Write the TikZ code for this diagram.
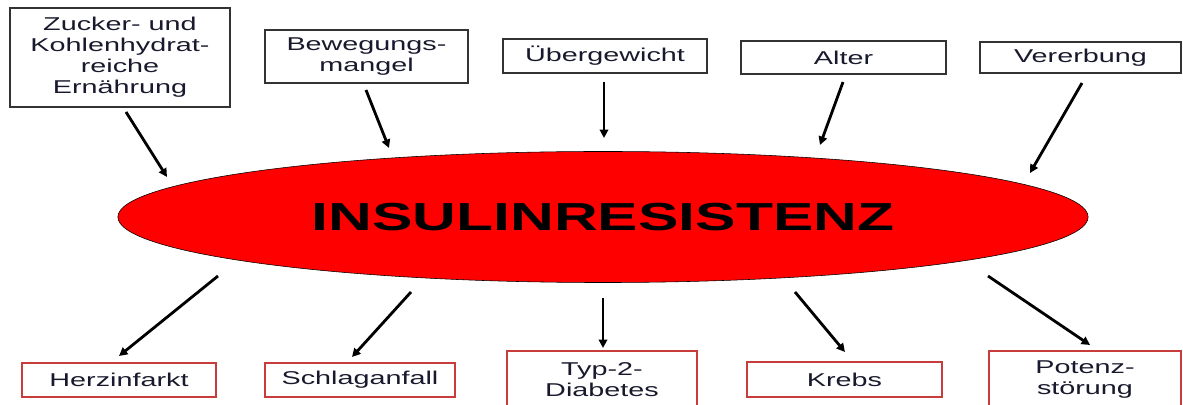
\documentclass[tikz,border=0pt]{standalone}
\usepackage{fontspec}
\usepackage{tikz}
\usetikzlibrary{arrows.meta,shapes.geometric}
\newfontfamily\boxfont{Liberation Sans}[FakeStretch=1.55]
\definecolor{txt}{RGB}{25,25,45}
\definecolor{rand}{RGB}{200,60,60}

\begin{document}
\begin{tikzpicture}
	[x=0.025cm,y=-0.025cm,>={Triangle[length=6pt,width=6pt]},
		ursache/.style={draw=black!80,line width=1.2pt,text=txt,align=center,inner sep=0pt,
			font=\boxfont\fontsize{13.2}{15}\selectfont},
		folge/.style={ursache,draw=rand},
		pfeil/.style={->,line width=2pt}]

	\clip (0,0) rectangle (1183,405);

	% Ursachen
	\node[ursache, minimum width=5.5cm, minimum height=2.475cm] (zucker) at (120,57.5) {Zucker- und\\Kohlenhydrat-\\reiche\\Ernährung};
	\node[ursache, minimum width=5.075cm, minimum height=1.325cm] (bewegung) at (366.5,56.5) {Bewegungs-\\mangel};
	\node[ursache, minimum width=5.1cm, minimum height=0.85cm] (uebergewicht) at (605,56) {Übergewicht};
	\node[ursache, minimum width=5.125cm, minimum height=0.825cm] (alter) at (843.5,57.5) {Alter};
	\node[ursache, minimum width=5.025cm, minimum height=0.775cm] (vererbung) at (1080.5,57.5) {Vererbung};

	\node[ellipse, draw=black, fill=red, inner sep=0pt, minimum width=24.25cm, minimum height=3.275cm,
		font=\boxfont\bfseries\fontsize{27.8}{30}\selectfont] (ir) at (603,217) {INSULINRESISTENZ};

	% Folgen
	\node[folge, minimum width=4.85cm, minimum height=0.85cm] (herz) at (119,380) {Herzinfarkt};
	\node[folge, minimum width=4.75cm, minimum height=0.85cm] (schlag) at (360,380) {Schlaganfall};
	\node[folge, minimum width=4.75cm, minimum height=1.425cm] (diabetes) at (602,379.5) {Typ-2-\\Diabetes};
	\node[folge, minimum width=4.875cm, minimum height=0.875cm] (krebs) at (844.5,379.5) {Krebs};
	\node[folge, minimum width=4.8cm, minimum height=1.425cm] (potenz) at (1085,379.5) {Potenz-\\störung};

	\coordinate (z1) at (126,112);  \coordinate (z2) at (167,177);
	\coordinate (b1) at (366,90);   \coordinate (b2) at (389,148);
	\coordinate (u1) at (604,82);   \coordinate (u2) at (604,138);
	\coordinate (a1) at (843,82);   \coordinate (a2) at (820,145);
	\coordinate (v1) at (1082,83);  \coordinate (v2) at (1030,173);
	\coordinate (h1) at (218,276);  \coordinate (h2) at (119,356);
	\coordinate (s1) at (411,292);  \coordinate (s2) at (352,357);
	\coordinate (d1) at (603,298);  \coordinate (d2) at (603,348);
	\coordinate (k1) at (795,292);  \coordinate (k2) at (845,352);
	\coordinate (p1) at (988,276);  \coordinate (p2) at (1090,345);

	\path[pfeil]
	(z1) edge (z2)
	(b1) edge (b2)
	(u1) edge (u2)
	(a1) edge (a2)
	(v1) edge (v2)
	(h1) edge (h2)
	(s1) edge (s2)
	(d1) edge (d2)
	(k1) edge (k2)
	(p1) edge (p2)

	;

\end{tikzpicture}
\end{document}
